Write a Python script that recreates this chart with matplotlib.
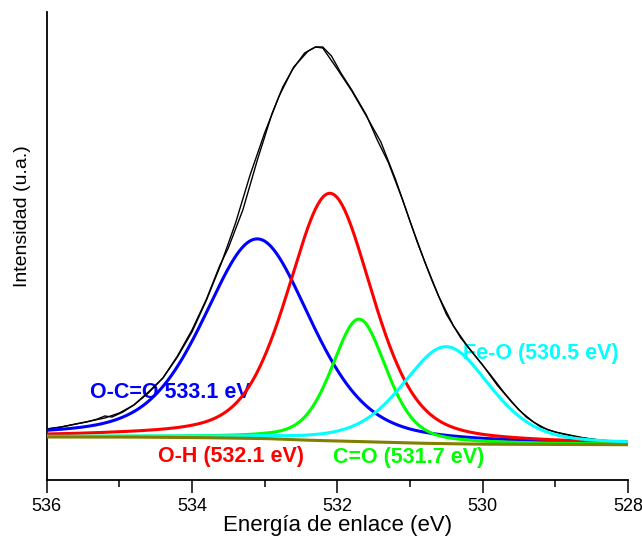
import numpy as np
import matplotlib
matplotlib.use("Agg")
import matplotlib.pyplot as plt
from matplotlib.ticker import MultipleLocator

plt.rcParams['font.family'] = ['Liberation Sans', 'DejaVu Sans']

# Measured O 1s spectrum: binding energy (eV) and intensity (a.u.)
raw_energy = [536.0, 535.8, 535.6, 535.45, 535.3, 535.2, 535.1, 534.95, 534.8,
              534.6, 534.4, 534.2, 534.0, 533.8, 533.62, 533.5, 533.3, 533.1,
              532.9, 532.75, 532.62, 532.45, 532.3, 532.2, 532.08, 531.95,
              531.8, 531.6, 531.45, 531.3, 531.1, 530.9, 530.7, 530.5, 530.3,
              530.1, 529.9, 529.7, 529.5, 529.3, 529.1, 528.9, 528.7, 528.5,
              528.3, 528.05]
raw_counts = [51, 53, 56, 58, 61, 64, 63, 68, 75,
              88, 102, 124, 150, 181, 214, 232, 270, 320,
              366, 393, 410, 427, 433, 433, 424, 407,
              390, 365, 340, 318, 280, 238, 200, 166, 142,
              124, 106, 87, 70, 58, 50, 46, 43, 41,
              39, 38]

# Fit envelope
fit_energy = [536.0, 535.8, 535.6, 535.4, 535.2, 535.0, 534.8, 534.6, 534.4,
              534.2, 534.0, 533.8, 533.6, 533.4, 533.2, 533.0, 532.8, 532.6,
              532.4, 532.3, 532.2, 532.0, 531.8, 531.6, 531.4, 531.2, 531.0,
              530.8, 530.6, 530.4, 530.2, 530.0, 529.8, 529.6, 529.4, 529.2,
              529.0, 528.8, 528.6, 528.4, 528.2, 528.0]
fit_counts = [51, 53, 56, 59, 62, 67, 75, 87, 102,
              123, 148, 180, 216, 257, 305, 347, 384, 413,
              429, 433, 432, 411, 389, 364, 338, 301, 259,
              219, 183, 154, 133, 115, 95, 78, 63, 53,
              48, 45, 42, 40, 39, 38]

# Shirley-type background
bg_energy = [536.0, 535.0, 534.0, 533.0, 532.5, 532.0, 531.5, 531.0, 530.5,
             530.0, 529.0, 528.0]
bg_counts = [43, 43, 42.5, 41.5, 40, 39, 38, 37, 36.3, 35.8, 35.5, 35.3]

# Fitted components (pseudo-Voigt)
comp_names = ["O-C=O", "O-H", "C=O", "Fe-O"]
comp_center = [533.1, 532.1, 531.7, 530.5]
comp_height = [199.5, 247.5, 122.5, 97.0]
comp_fwhm = [1.75, 1.38, 0.89, 1.43]
comp_lorentz = [0.4, 0.4, 0.4, 0.4]
comp_colors = ["#0000FF", "#FF0000", "#00FF00", "#00FFFF"]
label_formats = ["{n} {c:.1f} eV", "{n} ({c:.1f} eV)", "{n} ({c:.1f} eV)",
                 "{n} ({c:.1f} eV)"]
label_anchor = [(535.40, 88), (534.47, 24), (532.06, 23), (530.27, 127)]


def pseudo_voigt(x, c, h, w, m):
    d = (x - c) ** 2 / w ** 2
    return h * ((1 - m) * np.exp(-4 * np.log(2) * d) + m / (1 + 4 * d))


energy = np.linspace(536, 528, 801)
background = np.interp(energy, bg_energy[::-1], bg_counts[::-1])

fig = plt.figure(figsize=(6.42, 5.40), dpi=100)
ax = fig.add_axes([0.0727, 0.1111, 0.9053, 0.8667])

ax.plot(raw_energy, raw_counts, color="black", lw=1.0, zorder=3)
ax.plot(fit_energy, fit_counts, color="black", lw=1.0, zorder=3)

for c, h, w, m, col in zip(comp_center, comp_height, comp_fwhm,
                           comp_lorentz, comp_colors):
    ax.plot(energy, background + pseudo_voigt(energy, c, h, w, m),
            color=col, lw=2.2, zorder=4)
ax.plot(energy, background, color="#808000", lw=2.2, zorder=5)

for n, c, col, fmt, (ex, ey) in zip(comp_names, comp_center, comp_colors,
                                     label_formats, label_anchor):
    ax.text(ex, ey, fmt.format(n=n, c=c), color=col, fontsize=15.5,
            fontweight="bold", ha="left", va="center", zorder=2)

ax.set_xlim(536, 528)
ax.set_ylim(0, 468)
ax.xaxis.set_major_locator(MultipleLocator(2))
ax.xaxis.set_minor_locator(MultipleLocator(1))
ax.tick_params(axis="x", which="major", length=9, width=1.1, direction="out",
               labelsize=13, pad=4)
ax.tick_params(axis="x", which="minor", length=5, width=1.1, direction="out")
ax.set_yticks([])
for side in ("top", "right"):
    ax.spines[side].set_visible(False)
for side in ("left", "bottom"):
    ax.spines[side].set_linewidth(1.3)

ax.set_xlabel("Energía de enlace (eV)", fontsize=16)
ax.xaxis.set_label_coords(0.5, -0.074)
ax.set_ylabel("Intensidad (u.a.)", fontsize=14)
ax.yaxis.set_label_coords(-0.027, 0.564)

fig.savefig("out.png", dpi=100)
